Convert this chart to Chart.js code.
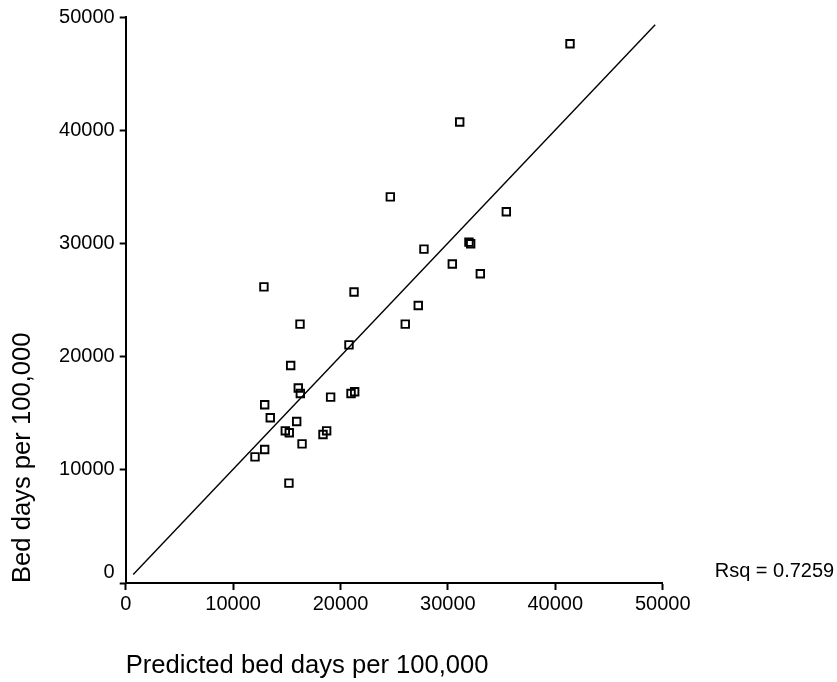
<!DOCTYPE html>
<html><head><meta charset="utf-8">
<script src="https://cdn.jsdelivr.net/npm/chart.js@4/dist/chart.umd.min.js"></script>
<style>html,body{margin:0;padding:0;background:#fff}#wrap{width:837px;height:682px}</style>
</head><body><div id="wrap"><canvas id="c" width="837" height="682"></canvas></div>
<script>
// Data
const predictedBedDays = [41370, 31100, 24640, 35440, 31960, 32120, 27770, 30410, 33020, 12870, 21260, 27240, 16230, 26030, 20790, 15360, 16070, 16260, 19080, 20980, 21320, 12940, 13460, 15920, 14860, 15230, 18370, 18710, 16420, 12940, 12040, 15200];
const actualBedDays    = [47660, 40740, 34130, 32810, 30130, 29980, 29510, 28190, 27330, 26170, 25720, 24530, 22880, 22880, 21050, 19220, 17230, 16750, 16430, 16750, 16900, 15750, 14600, 14270, 13450, 13280, 13130, 13450, 12300, 11800, 11150, 8830];
const fitLineX = [700, 49300];
const fitLineY = [750, 49340];
const axisMin = 0, axisMax = 50000, axisStep = 10000;
const rsqLabel = 'Rsq = 0.7259';
const xTitle = 'Predicted bed days per 100,000';
const yTitle = 'Bed days per 100,000';

const FONT = '"Liberation Sans", Arial, Helvetica, sans-serif';
Chart.defaults.font.family = FONT;
Chart.defaults.color = '#000';

const scatterPts = predictedBedDays.map((x, i) => ({x, y: actualBedDays[i]}));
const fitPts = fitLineX.map((x, i) => ({x, y: fitLineY[i]}));

const extras = {
  id: 'extras',
  afterDraw(chart) {
    const {ctx, chartArea, scales} = chart;
    const y0 = scales.y.getPixelForValue(0);
    ctx.save();
    ctx.font = '20px ' + FONT;
    ctx.fillStyle = '#000';
    ctx.textBaseline = 'middle';
    ctx.textAlign = 'left';
    ctx.fillText(rsqLabel, chartArea.right + 52, y0 - 12);
    ctx.textAlign = 'right';
    ctx.fillText(String(axisMin), scales.y.right - 11, y0 - 11);
    ctx.restore();
  }
};

new Chart(document.getElementById('c'), {
  type: 'scatter',
  data: {
    datasets: [
      {
        data: scatterPts,
        pointStyle: 'rect',
        pointRadius: 5.3,
        pointHoverRadius: 5.3,
        borderColor: '#000',
        backgroundColor: 'rgba(0,0,0,0)',
        pointBorderWidth: 1.9,
        borderWidth: 1.9
      },
      {
        data: fitPts,
        showLine: true,
        pointRadius: 0,
        borderColor: '#000',
        borderWidth: 1.4,
        fill: false
      }
    ]
  },
  plugins: [extras],
  options: {
    responsive: false,
    animation: false,
    devicePixelRatio: 1,
    layout: {padding: {left: 0, right: 174.3, top: 17.3, bottom: 0}},
    plugins: {legend: {display: false}, tooltip: {enabled: false}},
    scales: {
      x: {
        type: 'linear', position: 'bottom', min: axisMin, max: axisMax,
        ticks: {stepSize: axisStep, font: {size: 20}, padding: 2, maxRotation: 0, autoSkip: false,
                callback: v => String(v)},
        grid: {drawOnChartArea: false, drawTicks: true, tickLength: 7, tickWidth: 2, tickColor: '#000'},
        border: {display: true, color: '#000', width: 2},
        title: {display: true, text: xTitle, align: 'start', font: {size: 25.6}, padding: {top: 0, bottom: 1}},
        afterFit: s => { s.height = 99; }
      },
      y: {
        type: 'linear', position: 'left', min: axisMin, max: axisMax,
        ticks: {stepSize: axisStep, font: {size: 20}, padding: 5, autoSkip: false,
                callback: v => (v === axisMin ? '' : String(v))},
        grid: {drawOnChartArea: false, drawTicks: true, tickLength: 6, tickWidth: 2, tickColor: '#000'},
        border: {display: true, color: '#000', width: 2},
        title: {display: true, text: yTitle, align: 'start', font: {size: 25.6}, padding: {top: 8, bottom: 0}},
        afterFit: s => { s.width = 125.7; }
      }
    }
  }
});
</script></body></html>
